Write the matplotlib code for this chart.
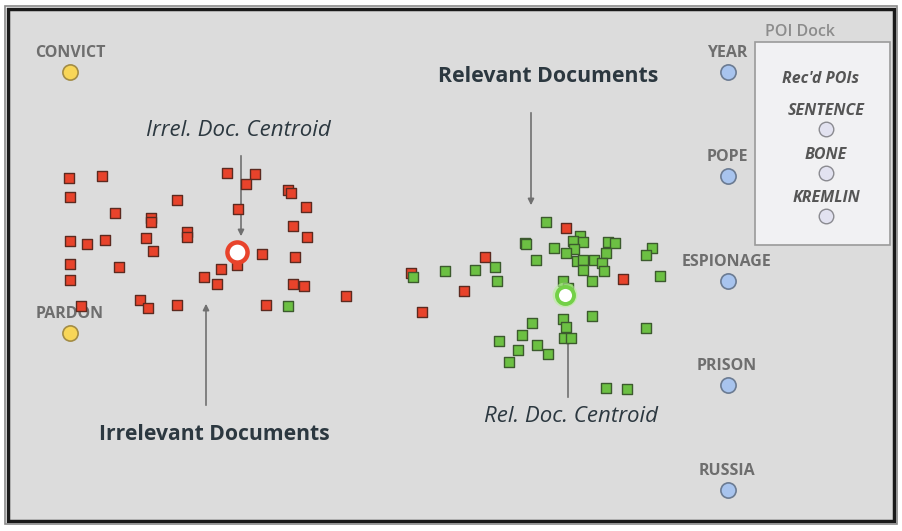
import matplotlib.pyplot as plt
from matplotlib.patches import Rectangle

plt.rcParams["font.family"] = ["Open Sans", "DejaVu Sans"]

# document positions (picture coordinates, y down)
irrel_x = [69, 102, 70, 177, 115, 151, 151, 238, 227, 255, 246, 288, 291, 306, 70, 87, 105,
           146, 187, 187, 153, 70, 119, 70, 221, 204, 217, 237, 81, 140, 148, 177, 262, 293,
           307, 295, 293, 304, 346, 266, 411, 485, 464, 422, 566, 623]
irrel_y = [178, 176, 197, 200, 213, 218, 222, 209, 173, 174, 184, 190, 193, 207, 241, 244, 240,
           238, 232, 237, 251, 264, 267, 280, 269, 277, 284, 265, 306, 300, 308, 305, 254, 226,
           237, 257, 284, 286, 296, 305, 273, 257, 291, 312, 228, 279]
rel_x = [288, 413, 445, 475, 495, 497, 525, 546, 526, 554, 580, 573, 583, 574, 566, 608, 615,
         652, 646, 606, 536, 577, 583, 594, 602, 583, 604, 592, 660, 563, 568, 563, 566, 564,
         571, 592, 532, 522, 499, 537, 518, 548, 509, 646, 606, 627]
rel_y = [306, 277, 271, 270, 267, 281, 243, 222, 244, 248, 236, 241, 242, 249, 253, 242, 243,
         248, 255, 253, 260, 261, 260, 260, 263, 270, 271, 281, 276, 281, 288, 319, 327, 338,
         338, 316, 323, 335, 341, 345, 350, 354, 362, 328, 388, 389]

irrel_centroid = (237, 252)
rel_centroid = (565, 295)

# points of interest
poi_yellow = ["CONVICT", "PARDON"]
poi_yellow_x = [70, 70]
poi_yellow_y = [72, 333]
poi_blue = ["YEAR", "POPE", "ESPIONAGE", "PRISON", "RUSSIA"]
poi_blue_x = [728, 728, 728, 728, 728]
poi_blue_y = [72, 176, 281, 385, 490]
dock_pois = ["SENTENCE", "BONE", "KREMLIN"]
dock_y = [129, 173, 216]

fig = plt.figure(figsize=(9.03, 5.31), dpi=100)
fig.patch.set_facecolor("white")
ax = fig.add_axes([0, 0, 1, 1])
ax.set_xlim(0, 903)
ax.set_ylim(531, 0)
ax.axis("off")

# canvas and frame
ax.add_patch(Rectangle((8, 9), 886, 512, facecolor="#dcdcdc", edgecolor="#1a1a1a",
                       linewidth=2.5, zorder=0))
ax.add_patch(Rectangle((5, 6), 892, 518, facecolor="none", edgecolor="#8a8a8a",
                       linewidth=1.2, zorder=0))

# poi dock
ax.add_patch(Rectangle((755, 42), 135, 203, facecolor="#f1f1f3", edgecolor="#9a9a9a",
                       linewidth=1.2, zorder=1))
ax.text(800, 32, "POI Dock", ha="center", va="center", fontsize=11.5, color="#8c8c8c",
        fontweight="semibold")
ax.text(821, 79, "Rec'd POIs", ha="center", va="center", fontsize=11.5, color="#555555",
        fontweight="bold", style="italic")
for name, yy in zip(dock_pois, dock_y):
    ax.text(826, yy - 18, name, ha="center", va="center", fontsize=11.5, color="#555555",
            fontweight="bold", style="italic")
ax.scatter([826] * len(dock_y), dock_y, s=110, facecolor="#e2e2f0", edgecolor="#8a8a90",
           linewidth=1, zorder=3)

# poi markers
for name, xx, yy in zip(poi_yellow, poi_yellow_x, poi_yellow_y):
    ax.text(xx, yy - 19, name, ha="center", va="center", fontsize=11.5, color="#6e6e6e",
            fontweight="bold", zorder=2)
ax.scatter(poi_yellow_x, poi_yellow_y, s=120, facecolor="#f8d658", edgecolor="#a38c45",
           linewidth=1.2, zorder=3)
for name, xx, yy in zip(poi_blue, poi_blue_x, poi_blue_y):
    ax.text(xx - 1, yy - 19, name, ha="center", va="center", fontsize=11.5, color="#6e6e6e",
            fontweight="bold", zorder=2)
ax.scatter(poi_blue_x, poi_blue_y, s=120, facecolor="#a8c4ee", edgecolor="#6b7b92",
           linewidth=1.2, zorder=3)

# documents
ax.scatter(irrel_x, irrel_y, marker="s", s=42, facecolor="#e8432b", edgecolor="#5c2a20",
           linewidth=1, zorder=4)
ax.scatter(rel_x, rel_y, marker="s", s=42, facecolor="#6cc043", edgecolor="#3c5a2e",
           linewidth=1, zorder=4)

# centroids
ax.scatter(*irrel_centroid, s=210, facecolor="white", edgecolor="#e8432b", linewidth=3.2,
           zorder=6)
ax.scatter(*rel_centroid, s=320, facecolor="#b8f09a", edgecolor="none", alpha=0.6, zorder=5)
ax.scatter(*rel_centroid, s=150, facecolor="white", edgecolor="#74d048", linewidth=2.8,
           zorder=6)

# annotations
txt = "#2c3840"
arrow = dict(arrowstyle="-|>", color="#707070", lw=1.2, mutation_scale=9)
ax.text(548, 77, "Relevant Documents", ha="center", va="center", fontsize=15.3,
        fontweight="bold", color=txt)
ax.annotate("", xy=(531, 208), xytext=(531, 110), arrowprops=arrow)
ax.text(238, 130, "Irrel. Doc. Centroid", ha="center", va="center", fontsize=16,
        style="italic", color=txt)
ax.annotate("", xy=(241, 239), xytext=(241, 153), arrowprops=arrow)
ax.text(214, 435, "Irrelevant Documents", ha="center", va="center", fontsize=15.2,
        fontweight="bold", color=txt)
ax.annotate("", xy=(206, 301), xytext=(206, 408), arrowprops=arrow)
ax.text(571, 416, "Rel. Doc. Centroid", ha="center", va="center", fontsize=16,
        style="italic", color=txt)
ax.annotate("", xy=(568, 320), xytext=(568, 400), arrowprops=arrow)

fig.savefig("out.png", dpi=100)
